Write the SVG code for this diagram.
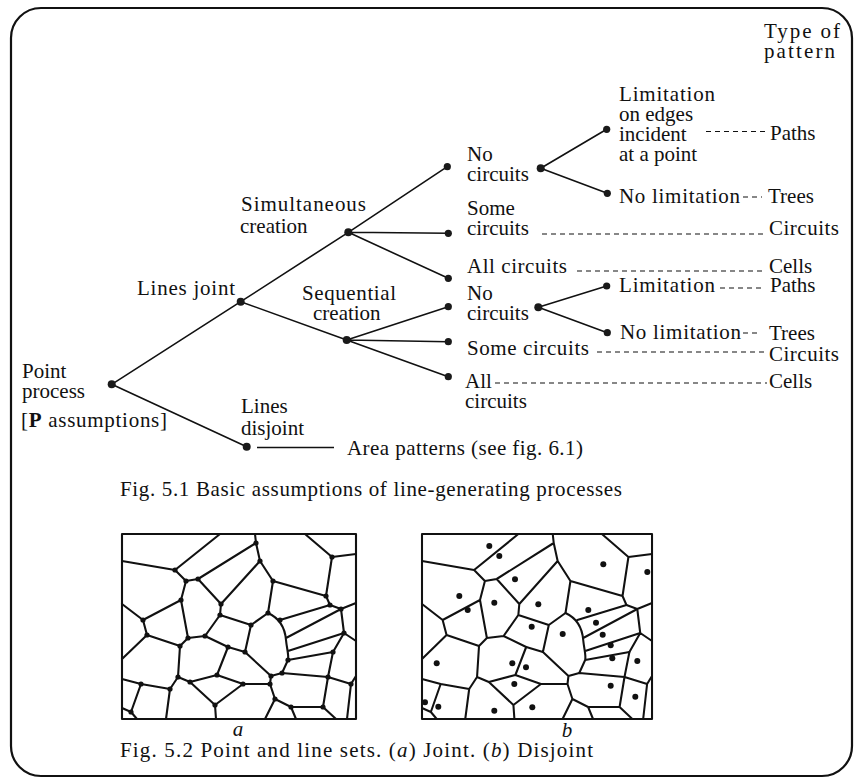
<svg xmlns="http://www.w3.org/2000/svg" xmlns:xlink="http://www.w3.org/1999/xlink" width="856" height="784" viewBox="0 0 856 784">
<style>
.t{font-family:"Liberation Serif","Times New Roman",serif;font-size:21px;fill:#111}
.e{stroke:#111;stroke-width:1.6;fill:none}
.d{stroke:#111;stroke-width:1.1;stroke-dasharray:5 4;fill:none}
.n{fill:#1a1a1a}
.net{stroke:#111;stroke-width:2.1;fill:none;stroke-linejoin:round;stroke-linecap:round}
.v{fill:#111}
</style>
<defs>
<g id="net" class="net">
<rect x="122" y="534" width="234" height="185"/>
<path d="M122,561 L175,570 L220,534 M175,570 L186,581 L198,579 L256,543 L255,534 M256,543 L260,561 L273,581 M260,561 L221,604 L198,579 M186,581 L181,600 L143,620 L122,604 M143,620 L147,635 L122,659 M147,635 L180,646 L188,638 L181,600 M188,638 L205,636 L220,615 L221,604 M220,615 L251,625 L268,613 L273,581 L326,596 M205,636 L228,647 L245,652 L251,625 M305,534 L332,557 L356,554 M332,557 L326,596 L330,605 L341,609 L356,603 M341,609 L344,633 L356,641 M344,633 L333,652 L328,677"/>
<path d="M268,613 C279,618 285,628 286,640 C287,650 289,655 288,660 L282,673 M280,620 L330,605 M286,638 L341,609 M288,651 L344,633 M288,660 L333,652"/>
<path d="M245,652 L271,676 L282,673 L328,677 M271,676 L270,684 L243,684 M270,684 L275,699 L291,707 L323,707 L328,677 M275,699 L265,719 M291,707 L296,719 M323,707 L336,719 M328,677 L351,684 L356,676 M351,684 L347,719"/>
<path d="M228,647 L217,675 L243,684 M217,675 L190,682 L178,677 L180,646 M178,677 L170,689 L141,684 L122,679 M170,689 L166,719 M141,684 L131,712 L122,708 M131,712 L137,719 M190,682 L215,705 L243,684 M215,705 L216,719"/>
</g>
</defs>

<rect x="11" y="8" width="841" height="768" rx="30" ry="30" fill="none" stroke="#111" stroke-width="2.2"/>

<g id="connectors">
<path class="e" d="M111.7,384.3 L240.7,301.7 M111.7,384.3 L246.7,446.7 M240.7,301.7 L348.3,232.3 M240.7,301.7 L346.7,340 M348.3,232.3 L447.3,166.7 M348.3,232.3 L448.3,233.3 M348.3,232.3 L448.3,278.3 M346.7,340 L448.3,306.7 M346.7,340 L448.3,341.7 M346.7,340 L448.3,376.7 M540.7,168.3 L606.7,129.3 M540.7,168.3 L607.3,193.3 M538.3,307.3 L606.7,286 M538.3,307.3 L607.3,332.7"/>
<path class="e" d="M257,447.5 L334,447.5" stroke-width="2"/>
<path class="d" d="M706,131.5 L766,131.5 M743,197 L762,197 M542,234 L763,234 M577,271 L762,271 M720,288 L762,288 M743,333 L760,333 M597,352 L767,352 M495,383 L767,383"/>
</g>

<g id="header"><text class="t" x="764" y="38" textLength="76">Type of</text><text class="t" x="764" y="58" textLength="71">pattern</text></g>

<g id="n-point"><circle class="n" cx="111.7" cy="384.3" r="4"/><text class="t" x="22" y="378">Point</text><text class="t" x="22" y="398">process</text><text class="t" x="21" y="427" textLength="146">[<tspan font-weight="bold">P</tspan> assumptions]</text></g>
<g id="n-joint"><circle class="n" cx="240.7" cy="301.7" r="4"/><text class="t" x="137" y="295" textLength="98">Lines joint</text></g>
<g id="n-disjoint"><circle class="n" cx="246.7" cy="446.7" r="4"/><text class="t" x="241" y="413">Lines</text><text class="t" x="241" y="435">disjoint</text></g>
<g id="n-area"><text class="t" x="347" y="455" textLength="236">Area patterns (see fig. 6.1)</text></g>
<g id="n-sim"><circle class="n" cx="348.3" cy="232.3" r="4"/><text class="t" x="241" y="211" textLength="125">Simultaneous</text><text class="t" x="240" y="233">creation</text></g>
<g id="n-seq"><circle class="n" cx="346.7" cy="340" r="4"/><text class="t" x="302" y="300" textLength="94">Sequential</text><text class="t" x="313" y="320">creation</text></g>

<g id="n-sim-no"><circle class="n" cx="447.3" cy="166.7" r="3.6"/><circle class="n" cx="540.7" cy="168.3" r="4"/><text class="t" x="467" y="161">No</text><text class="t" x="467" y="181">circuits</text></g>
<g id="n-sim-lim"><circle class="n" cx="606.7" cy="129.3" r="3.6"/><text class="t" x="619" y="101" textLength="96">Limitation</text><text class="t" x="619" y="121">on edges</text><text class="t" x="619" y="141">incident</text><text class="t" x="619" y="161">at a point</text></g>
<g id="n-sim-nolim"><circle class="n" cx="607.3" cy="193.3" r="3.6"/><text class="t" x="619" y="203" textLength="121">No limitation</text></g>
<g id="n-sim-some"><circle class="n" cx="448.3" cy="233.3" r="3.6"/><text class="t" x="467" y="215">Some</text><text class="t" x="467" y="235">circuits</text></g>
<g id="n-sim-all"><circle class="n" cx="448.3" cy="278.3" r="3.6"/><text class="t" x="467" y="273" textLength="100">All circuits</text></g>

<g id="n-seq-no"><circle class="n" cx="448.3" cy="306.7" r="3.6"/><circle class="n" cx="538.3" cy="307.3" r="4"/><text class="t" x="467" y="300">No</text><text class="t" x="467" y="320">circuits</text></g>
<g id="n-seq-lim"><circle class="n" cx="606.7" cy="286" r="3.6"/><text class="t" x="619" y="292" textLength="96">Limitation</text></g>
<g id="n-seq-nolim"><circle class="n" cx="607.3" cy="332.7" r="3.6"/><text class="t" x="620" y="339" textLength="121">No limitation</text></g>
<g id="n-seq-some"><circle class="n" cx="448.3" cy="341.7" r="3.6"/><text class="t" x="467" y="355" textLength="122">Some circuits</text></g>
<g id="n-seq-all"><circle class="n" cx="448.3" cy="376.7" r="3.6"/><text class="t" x="465" y="388">All</text><text class="t" x="465" y="408">circuits</text></g>

<g id="p-paths1"><text class="t" x="770" y="140">Paths</text></g>
<g id="p-trees1"><text class="t" x="768" y="203">Trees</text></g>
<g id="p-circuits1"><text class="t" x="769" y="235" textLength="70">Circuits</text></g>
<g id="p-cells1"><text class="t" x="769" y="273">Cells</text></g>
<g id="p-paths2"><text class="t" x="770" y="292">Paths</text></g>
<g id="p-trees2"><text class="t" x="769" y="340">Trees</text></g>
<g id="p-circuits2"><text class="t" x="769" y="361" textLength="70">Circuits</text></g>
<g id="p-cells2"><text class="t" x="769" y="388">Cells</text></g>

<g id="caption1"><text class="t" x="120" y="496" textLength="502" lengthAdjust="spacing">Fig. 5.1 Basic assumptions of line-generating processes</text></g>

<g id="fig-a">
<use xlink:href="#net" href="#net"/>
<g class="v">
<circle cx="175" cy="570" r="2.6"/><circle cx="186" cy="581" r="2.6"/><circle cx="198" cy="579" r="2.6"/><circle cx="256" cy="543" r="2.6"/><circle cx="260" cy="561" r="2.6"/><circle cx="273" cy="581" r="2.6"/><circle cx="332" cy="557" r="2.6"/><circle cx="326" cy="596" r="2.6"/><circle cx="181" cy="600" r="2.6"/><circle cx="143" cy="620" r="2.6"/><circle cx="221" cy="604" r="2.6"/><circle cx="220" cy="615" r="2.6"/><circle cx="147" cy="635" r="2.6"/><circle cx="180" cy="646" r="2.6"/><circle cx="188" cy="638" r="2.6"/><circle cx="205" cy="636" r="2.6"/><circle cx="228" cy="647" r="2.6"/><circle cx="245" cy="652" r="2.6"/><circle cx="251" cy="625" r="2.6"/><circle cx="268" cy="613" r="2.6"/><circle cx="280" cy="620" r="2.6"/><circle cx="288" cy="660" r="2.6"/><circle cx="271" cy="676" r="2.6"/><circle cx="282" cy="673" r="2.6"/><circle cx="270" cy="684" r="2.6"/><circle cx="243" cy="684" r="2.6"/><circle cx="275" cy="699" r="2.6"/><circle cx="291" cy="707" r="2.6"/><circle cx="323" cy="707" r="2.6"/><circle cx="328" cy="677" r="2.6"/><circle cx="351" cy="684" r="2.6"/><circle cx="330" cy="605" r="2.6"/><circle cx="341" cy="609" r="2.6"/><circle cx="344" cy="633" r="2.6"/><circle cx="333" cy="652" r="2.6"/><circle cx="217" cy="675" r="2.6"/><circle cx="190" cy="682" r="2.6"/><circle cx="178" cy="677" r="2.6"/><circle cx="170" cy="689" r="2.6"/><circle cx="141" cy="684" r="2.6"/><circle cx="131" cy="712" r="2.6"/><circle cx="215" cy="705" r="2.6"/>
</g>
<text class="t" x="238" y="736" text-anchor="middle" font-style="italic">a</text>
</g>

<g id="fig-b">
<use xlink:href="#net" href="#net" transform="translate(422,0) scale(0.983,1) translate(-122,0)"/>
<g class="v">
<circle cx="489.3" cy="546" r="3"/><circle cx="499.3" cy="556" r="3"/><circle cx="515" cy="579.3" r="3"/><circle cx="459.3" cy="596" r="3"/><circle cx="467.7" cy="610" r="3"/><circle cx="494.3" cy="602.7" r="3"/><circle cx="538.3" cy="604.3" r="3"/><circle cx="531.7" cy="626.7" r="3"/><circle cx="562.7" cy="634" r="3"/><circle cx="603.3" cy="564.3" r="3"/><circle cx="647.3" cy="572" r="3"/><circle cx="588.3" cy="610" r="3"/><circle cx="596" cy="622.7" r="3"/><circle cx="602.7" cy="634.7" r="3"/><circle cx="610.7" cy="645.3" r="3"/><circle cx="612.3" cy="658.3" r="3"/><circle cx="637.3" cy="661" r="3"/><circle cx="436.7" cy="663.3" r="3"/><circle cx="512.3" cy="663.3" r="3"/><circle cx="526" cy="667.3" r="3"/><circle cx="514.3" cy="684" r="3"/><circle cx="610.7" cy="685.7" r="3"/><circle cx="635.3" cy="696.7" r="3"/><circle cx="425" cy="702.3" r="3"/><circle cx="438.3" cy="706.7" r="3"/><circle cx="494.3" cy="710.7" r="3"/><circle cx="532.3" cy="707.3" r="3"/>
</g>
<text class="t" x="567" y="737" text-anchor="middle" font-style="italic">b</text>
</g>

<g id="caption2"><text class="t" x="120" y="757" textLength="473" lengthAdjust="spacing">Fig. 5.2 Point and line sets. (<tspan font-style="italic">a</tspan>) Joint. (<tspan font-style="italic">b</tspan>) Disjoint</text></g>
</svg>
